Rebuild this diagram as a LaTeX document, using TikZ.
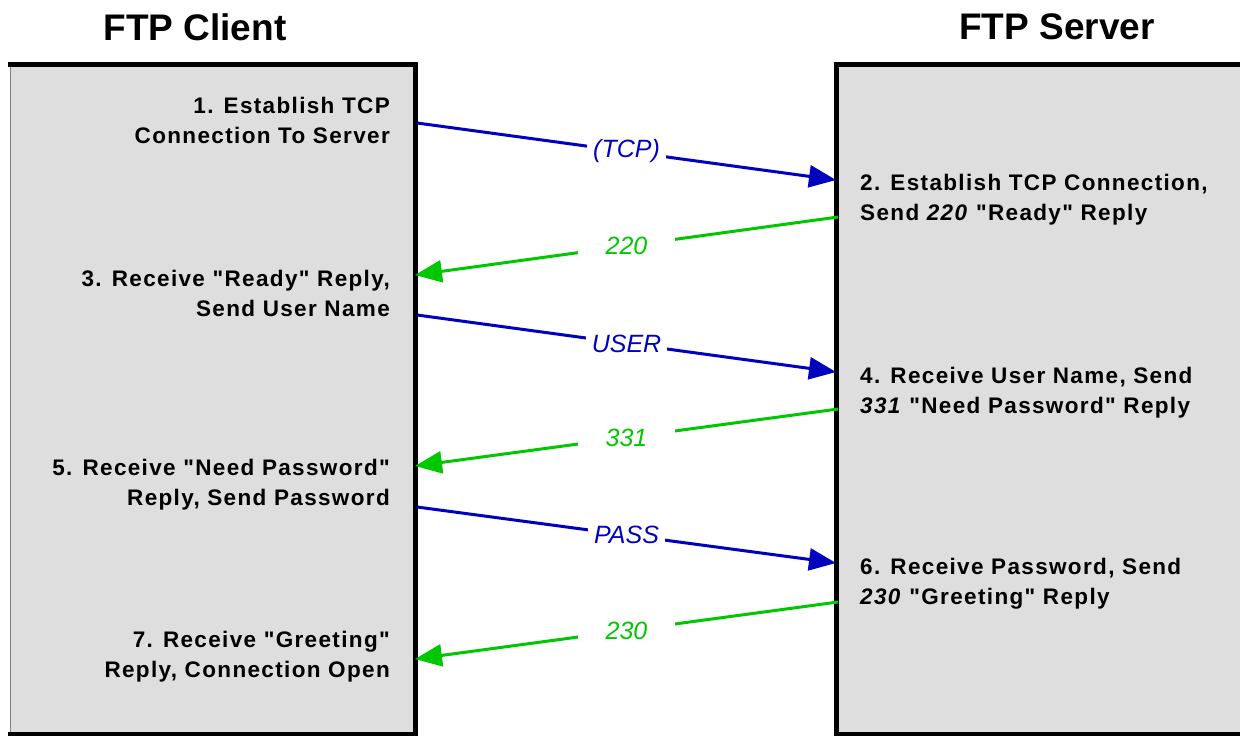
\documentclass[tikz,border=0pt]{standalone}
\usepackage{fontspec}
\setmainfont{Liberation Sans}
\usetikzlibrary{arrows.meta}
\definecolor{boxgray}{RGB}{222,222,222}
\definecolor{reqblue}{RGB}{0,0,190}
\definecolor{repgreen}{RGB}{0,200,0}
\newfontfamily\stepfont[LetterSpace=6]{Liberation Sans}

\begin{document}
\begin{tikzpicture}[x=1pt,y=-1pt,>={Triangle[length=27pt,width=22pt]},
  font=\stepfont\fontsize{22.5}{30}\selectfont\bfseries,
  title/.style={font=\fontsize{37}{40}\selectfont\bfseries},
  cstep/.style={anchor=east,align=right,inner sep=0pt},
  sstep/.style={anchor=west,align=left,inner sep=0pt},
  req/.style={->,reqblue,line width=3pt},
  rep/.style={->,repgreen,line width=3pt},
  msg/.style={midway,fill=white,inner ysep=6pt,inner xsep=6pt,
    font=\fontsize{25}{28}\selectfont\itshape}]
  \useasboundingbox (0,0) rectangle (1240,736);
  % the two sides
  \fill[boxgray,draw=gray] (10,66) rectangle (414,732);
  \fill[boxgray,draw=gray] (838,66) rectangle (1250,732);
  \draw[line width=5pt] (8,64) -- (415,64) -- (415,734) -- (8,734);
  \draw[line width=5pt] (1250,64) -- (836,64) -- (836,734) -- (1250,734);
  \node[title] (client) at (195,27) {FTP Client};
  \node[title] (server) at (1057,27) {FTP Server};
  % steps
  \node[cstep] (c1) at (390,120) {1. Establish TCP\\Connection To Server};
  \node[sstep] (s2) at (860,200) {2. Establish TCP Connection,\\Send \textit{220} "Ready" Reply};
  \node[cstep] (c3) at (390,293) {3. Receive "Ready" Reply,\\Send User Name};
  \node[sstep] (s4) at (860,393) {4. Receive User Name, Send\\\textit{331} "Need Password" Reply};
  \node[cstep] (c5) at (390,485) {5. Receive "Need Password"\\Reply, Send Password};
  \node[sstep] (s6) at (860,584) {6. Receive Password, Send\\\textit{230} "Greeting" Reply};
  \node[cstep] (c7) at (390,657) {7. Receive "Greeting"\\Reply, Connection Open};
  % message ends
  \coordinate (a1) at (417,123); \coordinate (b1) at (836,180);
  \coordinate (b2) at (838,217); \coordinate (a2) at (415,275);
  \coordinate (a3) at (417,315); \coordinate (b3) at (836,372);
  \coordinate (b4) at (838,409); \coordinate (a4) at (415,466);
  \coordinate (a5) at (417,507); \coordinate (b5) at (836,563);
  \coordinate (b6) at (838,602); \coordinate (a6) at (415,659);
  \draw[req] (a1) -- (b1) node[msg] {(TCP)};
  \draw[rep] (b2) -- (a2) node[msg,inner xsep=28pt] {220};
  \draw[req] (a3) -- (b3) node[msg] {USER};
  \draw[rep] (b4) -- (a4) node[msg,inner xsep=28pt] {331};
  \draw[req] (a5) -- (b5) node[msg] {PASS};
  \draw[rep] (b6) -- (a6) node[msg,inner xsep=28pt] {230};
\end{tikzpicture}
\end{document}
